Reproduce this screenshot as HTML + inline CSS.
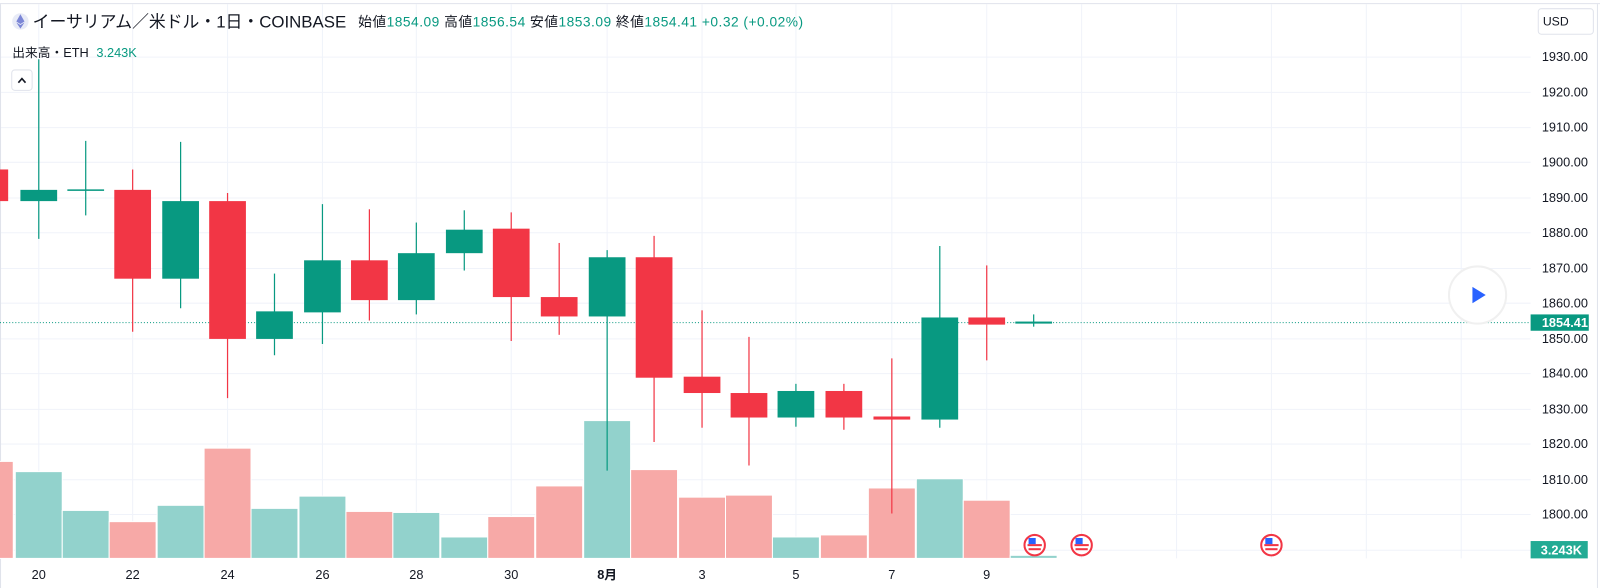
<!DOCTYPE html>
<html><head><meta charset="utf-8"><style>
html,body{margin:0;padding:0;background:#fff;}
svg{display:block;font-family:"Liberation Sans","Noto Sans CJK JP",sans-serif;}
</style></head><body>
<svg width="1600" height="588" viewBox="0 0 1568 576" preserveAspectRatio="none" xmlns="http://www.w3.org/2000/svg">
<rect width="1568" height="576" fill="#fff"/>
<!-- grid -->
<g stroke="#f0f3fa" stroke-width="1">
<line x1="0" y1="3.5" x2="1568" y2="3.5" stroke="#e0e3eb"/>
<line x1="0" y1="56" x2="1500" y2="56"/><line x1="0" y1="90.5" x2="1500" y2="90.5"/><line x1="0" y1="125" x2="1500" y2="125"/><line x1="0" y1="159" x2="1500" y2="159"/><line x1="0" y1="194" x2="1500" y2="194"/><line x1="0" y1="228" x2="1500" y2="228"/><line x1="0" y1="263" x2="1500" y2="263"/><line x1="0" y1="297" x2="1500" y2="297"/><line x1="0" y1="332" x2="1500" y2="332"/><line x1="0" y1="366" x2="1500" y2="366"/><line x1="0" y1="401" x2="1500" y2="401"/><line x1="0" y1="435" x2="1500" y2="435"/><line x1="0" y1="470" x2="1500" y2="470"/><line x1="0" y1="504" x2="1500" y2="504"/><line x1="0" y1="539" x2="1500" y2="539"/>
<line x1="38" y1="4" x2="38" y2="547"/><line x1="130" y1="4" x2="130" y2="547"/><line x1="223" y1="4" x2="223" y2="547"/><line x1="316" y1="4" x2="316" y2="547"/><line x1="408" y1="4" x2="408" y2="547"/><line x1="501" y1="4" x2="501" y2="547"/><line x1="595" y1="4" x2="595" y2="547"/><line x1="688" y1="4" x2="688" y2="547"/><line x1="780" y1="4" x2="780" y2="547"/><line x1="874" y1="4" x2="874" y2="547"/><line x1="967" y1="4" x2="967" y2="547"/><line x1="1060" y1="4" x2="1060" y2="547"/><line x1="1153" y1="4" x2="1153" y2="547"/><line x1="1246" y1="4" x2="1246" y2="547"/><line x1="1339" y1="4" x2="1339" y2="547"/><line x1="1432" y1="4" x2="1432" y2="547"/>
</g>
<line x1="1565.5" y1="4" x2="1565.5" y2="576" stroke="#e0e3eb"/>
<line x1="0.5" y1="4" x2="0.5" y2="576" stroke="#e0e3eb"/>
<!-- volume -->
<g stroke="#fff" stroke-width="1">
<rect x="-10" y="452" width="23" height="95" fill="#f7a9a7"/>
<rect x="15" y="462" width="46" height="85" fill="#92d2cc"/>
<rect x="61" y="500" width="46" height="47" fill="#92d2cc"/>
<rect x="107" y="511" width="46" height="36" fill="#f7a9a7"/>
<rect x="154" y="495" width="46" height="52" fill="#92d2cc"/>
<rect x="200" y="439" width="46" height="108" fill="#f7a9a7"/>
<rect x="246" y="498" width="46" height="49" fill="#92d2cc"/>
<rect x="293" y="486" width="46" height="61" fill="#92d2cc"/>
<rect x="339" y="501" width="46" height="46" fill="#f7a9a7"/>
<rect x="385" y="502" width="46" height="45" fill="#92d2cc"/>
<rect x="432" y="526" width="46" height="21" fill="#92d2cc"/>
<rect x="478" y="506" width="46" height="41" fill="#f7a9a7"/>
<rect x="525" y="476" width="46" height="71" fill="#f7a9a7"/>
<rect x="572" y="412" width="46" height="135" fill="#92d2cc"/>
<rect x="618" y="460" width="46" height="87" fill="#f7a9a7"/>
<rect x="665" y="487" width="46" height="60" fill="#f7a9a7"/>
<rect x="711" y="485" width="46" height="62" fill="#f7a9a7"/>
<rect x="757" y="526" width="46" height="21" fill="#92d2cc"/>
<rect x="804" y="524" width="46" height="23" fill="#f7a9a7"/>
<rect x="851" y="478" width="46" height="69" fill="#f7a9a7"/>
<rect x="898" y="469" width="46" height="78" fill="#92d2cc"/>
<rect x="944" y="490" width="46" height="57" fill="#f7a9a7"/>
<rect x="990" y="544" width="46" height="3" fill="#92d2cc"/>
</g>
<!-- price line -->
<line x1="0" y1="316" x2="1500" y2="316" stroke="#089981" stroke-dasharray="1,2"/>
<!-- candles -->
<g stroke-width="1.2">
<g fill="#f23645" stroke="#f23645"><line x1="-8" y1="150" x2="-8" y2="210"/><rect x="-26" y="166" width="34" height="31" stroke="none"/></g>
<g fill="#089981" stroke="#089981"><line x1="38" y1="58" x2="38" y2="234"/><rect x="20" y="186" width="36" height="11" stroke="none"/></g>
<g fill="#089981" stroke="#089981"><line x1="84" y1="138" x2="84" y2="211"/><rect x="66" y="185.5" width="36" height="1.5" stroke="none"/></g>
<g fill="#f23645" stroke="#f23645"><line x1="130" y1="166" x2="130" y2="325"/><rect x="112" y="186" width="36" height="87" stroke="none"/></g>
<g fill="#089981" stroke="#089981"><line x1="177" y1="139" x2="177" y2="302"/><rect x="159" y="197" width="36" height="76" stroke="none"/></g>
<g fill="#f23645" stroke="#f23645"><line x1="223" y1="189" x2="223" y2="390"/><rect x="205" y="197" width="36" height="135" stroke="none"/></g>
<g fill="#089981" stroke="#089981"><line x1="269" y1="268" x2="269" y2="348"/><rect x="251" y="305" width="36" height="27" stroke="none"/></g>
<g fill="#089981" stroke="#089981"><line x1="316" y1="200" x2="316" y2="337"/><rect x="298" y="255" width="36" height="51" stroke="none"/></g>
<g fill="#f23645" stroke="#f23645"><line x1="362" y1="205" x2="362" y2="314"/><rect x="344" y="255" width="36" height="39" stroke="none"/></g>
<g fill="#089981" stroke="#089981"><line x1="408" y1="218" x2="408" y2="308"/><rect x="390" y="248" width="36" height="46" stroke="none"/></g>
<g fill="#089981" stroke="#089981"><line x1="455" y1="206" x2="455" y2="265"/><rect x="437" y="225" width="36" height="23" stroke="none"/></g>
<g fill="#f23645" stroke="#f23645"><line x1="501" y1="208" x2="501" y2="334"/><rect x="483" y="224" width="36" height="67" stroke="none"/></g>
<g fill="#f23645" stroke="#f23645"><line x1="548" y1="238" x2="548" y2="328"/><rect x="530" y="291" width="36" height="19" stroke="none"/></g>
<g fill="#089981" stroke="#089981"><line x1="595" y1="245" x2="595" y2="461"/><rect x="577" y="252" width="36" height="58" stroke="none"/></g>
<g fill="#f23645" stroke="#f23645"><line x1="641" y1="231" x2="641" y2="433"/><rect x="623" y="252" width="36" height="118" stroke="none"/></g>
<g fill="#f23645" stroke="#f23645"><line x1="688" y1="304" x2="688" y2="419"/><rect x="670" y="369" width="36" height="16" stroke="none"/></g>
<g fill="#f23645" stroke="#f23645"><line x1="734" y1="330" x2="734" y2="456"/><rect x="716" y="385" width="36" height="24" stroke="none"/></g>
<g fill="#089981" stroke="#089981"><line x1="780" y1="376" x2="780" y2="418"/><rect x="762" y="383" width="36" height="26" stroke="none"/></g>
<g fill="#f23645" stroke="#f23645"><line x1="827" y1="376" x2="827" y2="421"/><rect x="809" y="383" width="36" height="26" stroke="none"/></g>
<g fill="#f23645" stroke="#f23645"><line x1="874" y1="351" x2="874" y2="503"/><rect x="856" y="408" width="36" height="3" stroke="none"/></g>
<g fill="#089981" stroke="#089981"><line x1="921" y1="241" x2="921" y2="419"/><rect x="903" y="311" width="36" height="100" stroke="none"/></g>
<g fill="#f23645" stroke="#f23645"><line x1="967" y1="260" x2="967" y2="353"/><rect x="949" y="311" width="36" height="7" stroke="none"/></g>
<g fill="#089981" stroke="#089981"><line x1="1013" y1="308" x2="1013" y2="320"/><rect x="995" y="315" width="36" height="2" stroke="none"/></g>
</g>
<!-- flags -->
<g>
<g transform="translate(1014,534)"><circle r="10" fill="#fff" stroke="#f23645" stroke-width="2"/><rect x="-7" y="-1" width="14" height="2" fill="#f23645"/><rect x="-6" y="3" width="12" height="2" fill="#f23645"/><rect x="-6" y="-7" width="7" height="6" fill="#2962ff"/></g>
<g transform="translate(1060,534)"><circle r="10" fill="#fff" stroke="#f23645" stroke-width="2"/><rect x="-7" y="-1" width="14" height="2" fill="#f23645"/><rect x="-6" y="3" width="12" height="2" fill="#f23645"/><rect x="-6" y="-7" width="7" height="6" fill="#2962ff"/></g>
<g transform="translate(1246,534)"><circle r="10" fill="#fff" stroke="#f23645" stroke-width="2"/><rect x="-7" y="-1" width="14" height="2" fill="#f23645"/><rect x="-6" y="3" width="12" height="2" fill="#f23645"/><rect x="-6" y="-7" width="7" height="6" fill="#2962ff"/></g>
</g>
<!-- play button -->
<circle cx="1448" cy="289" r="28" fill="#fff" stroke="#f0f0f0" stroke-width="2"/>
<path d="M1443 281 L1456 289 L1443 297 Z" fill="#2962ff"/>
<!-- price axis -->
<g font-size="12.5" fill="#131722">
<text x="1511" y="60">1930.00</text><text x="1511" y="94.5">1920.00</text><text x="1511" y="129">1910.00</text><text x="1511" y="163">1900.00</text><text x="1511" y="198">1890.00</text><text x="1511" y="232">1880.00</text><text x="1511" y="267">1870.00</text><text x="1511" y="301">1860.00</text><text x="1511" y="336">1850.00</text><text x="1511" y="370">1840.00</text><text x="1511" y="405">1830.00</text><text x="1511" y="439">1820.00</text><text x="1511" y="474">1810.00</text><text x="1511" y="508">1800.00</text>
</g>
<rect x="1500" y="308" width="57" height="16" fill="#089981"/>
<text x="1511" y="320.5" font-size="12.5" fill="#fff" font-weight="bold">1854.41</text>
<rect x="1500" y="530" width="56" height="17" fill="#22ab94"/>
<text x="1510" y="543" font-size="12.5" fill="#fff" font-weight="bold">3.243K</text>
<rect x="1507.5" y="8.5" width="54" height="25" rx="3" fill="#fff" stroke="#e0e3eb"/>
<text x="1512" y="25" font-size="12" fill="#131722">USD</text>
<!-- time axis -->
<g font-size="12.5" fill="#131722" text-anchor="middle">
<text x="38" y="567">20</text><text x="130" y="567">22</text><text x="223" y="567">24</text><text x="316" y="567">26</text><text x="408" y="567">28</text><text x="501" y="567">30</text><text x="595" y="567" font-weight="bold">8月</text><text x="688" y="567">3</text><text x="780" y="567">5</text><text x="874" y="567">7</text><text x="967" y="567">9</text>
</g>
<!-- header -->
<circle cx="20" cy="21" r="8" fill="#e8ebf7"/>
<path d="M20 14 L24 21 L20 23.5 L16 21 Z M20 24.5 L24 22 L20 28 L16 22 Z" fill="#7b86d6"/>
<text x="32" y="27" font-size="16.5" fill="#131722">イーサリアム／米ドル・1日・COINBASE</text>
<g font-size="13.5">
<text x="351" y="26" fill="#131722" textLength="436" lengthAdjust="spacing">始値<tspan fill="#089981">1854.09</tspan> 高値<tspan fill="#089981">1856.54</tspan> 安値<tspan fill="#089981">1853.09</tspan> 終値<tspan fill="#089981">1854.41</tspan> <tspan fill="#089981">+0.32 (+0.02%)</tspan></text>
</g>
<g font-size="12.5">
<text x="12" y="56" fill="#131722">出来高・ETH <tspan fill="#089981" dx="4">3.243K</tspan></text>
</g>
<rect x="11.5" y="68.5" width="20" height="20" rx="3" fill="#fff" stroke="#e0e3eb"/>
<path d="M18 81 L21.5 77 L25 81" fill="none" stroke="#131722" stroke-width="1.6"/>
</svg>
</body></html>
